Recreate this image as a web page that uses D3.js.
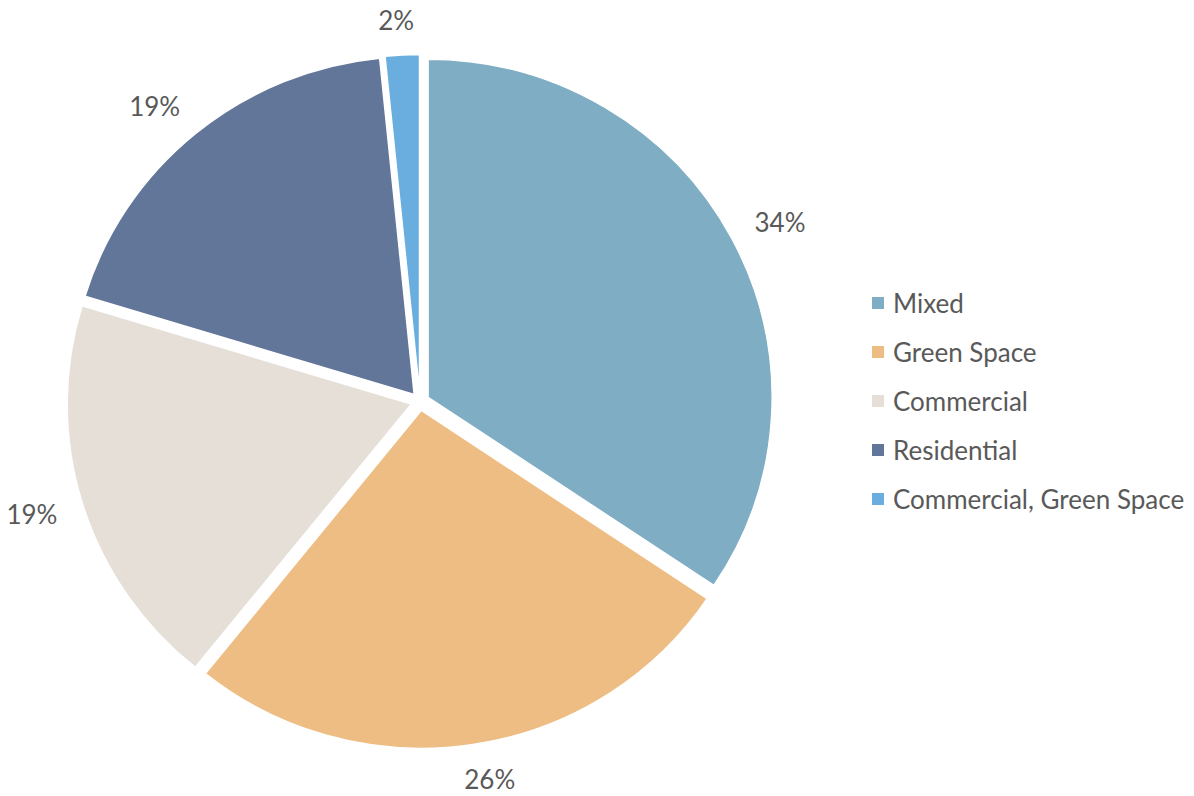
<!DOCTYPE html>
<html>
<head>
<meta charset="utf-8">
<script src="https://cdn.jsdelivr.net/npm/d3@7"></script>
<style>
  html, body { margin: 0; padding: 0; background: #ffffff; }
  svg { display: block; }
  text { font-family: Lato, "Open Sans", sans-serif; fill: #595959; }
</style>
</head>
<body>
<svg id="chart" width="1194" height="796"></svg>
<script>
// Land use shares (percent of total)
const categories = ["Mixed", "Green Space", "Commercial", "Residential", "Commercial, Green Space"];
const shares = [34.4, 26.4, 18.9, 18.7, 1.6];
const colors = ["#7fadc3", "#eebd84", "#e5dfd8", "#627699", "#6aaee0"];

const width = 1194, height = 796;
const cx = 420, cy = 401.5;
const radius = 338;       // vertical radius
const stretchX = 1.018;   // slight horizontal stretch of the pie
const explode = 9;        // every slice pulled out from the centre

const svg = d3.select("#chart");

const data = categories.map((c, i) => ({ category: c, value: shares[i], color: colors[i] }));

const pie = d3.pie().sort(null).value(d => d.value).startAngle(0).endAngle(2 * Math.PI);
const arcs = pie(data);
const arc = d3.arc().innerRadius(0).outerRadius(radius);

const color = d3.scaleOrdinal().domain(categories).range(colors);

const g = svg.append("g")
  .attr("transform", `translate(${cx},${cy}) scale(${stretchX},1)`);

g.selectAll("path.slice")
  .data(arcs)
  .join("path")
  .attr("class", "slice")
  .attr("d", arc)
  .attr("fill", d => color(d.data.category))
  .attr("stroke", "#ffffff")
  .attr("stroke-width", 1.5)
  .attr("transform", d => {
    const a = (d.startAngle + d.endAngle) / 2;
    return `translate(${explode * Math.sin(a)},${-explode * Math.cos(a)})`;
  });

// Percentage labels outside each slice; the text box is pushed sideways
// so that it clears the rim.
const labelR = 382, labelShift = 23;
const labelPos = d => {
  const a = (d.startAngle + d.endAngle) / 2;
  const s = Math.sin(a), c = Math.cos(a);
  const k = labelShift * Math.tanh(4 * Math.abs(s)) * Math.sign(s);
  return [cx + labelR * s + k, cy - labelR * c];
};
const fmt = v => d3.format(".0f")(v) + "%";
svg.append("g").selectAll("text.pct")
  .data(arcs)
  .join("text")
  .attr("class", "pct")
  .attr("x", d => labelPos(d)[0])
  .attr("y", d => labelPos(d)[1])
  .attr("text-anchor", "middle")
  .attr("dominant-baseline", "central")
  .style("font-size", "26px")
  .text(d => fmt(d.data.value));

// Legend
const legendY = d3.scalePoint().domain(categories).range([303, 499]);
const legend = svg.append("g").selectAll("g.item")
  .data(categories)
  .join("g")
  .attr("class", "item")
  .attr("transform", d => `translate(872,${legendY(d)})`);

legend.append("rect")
  .attr("x", 0).attr("y", -6)
  .attr("width", 12).attr("height", 12)
  .attr("fill", d => color(d));

legend.append("text")
  .attr("x", 21).attr("y", 0)
  .attr("dominant-baseline", "central")
  .style("font-size", "26px")
  .text(d => d);
</script>
</body>
</html>
